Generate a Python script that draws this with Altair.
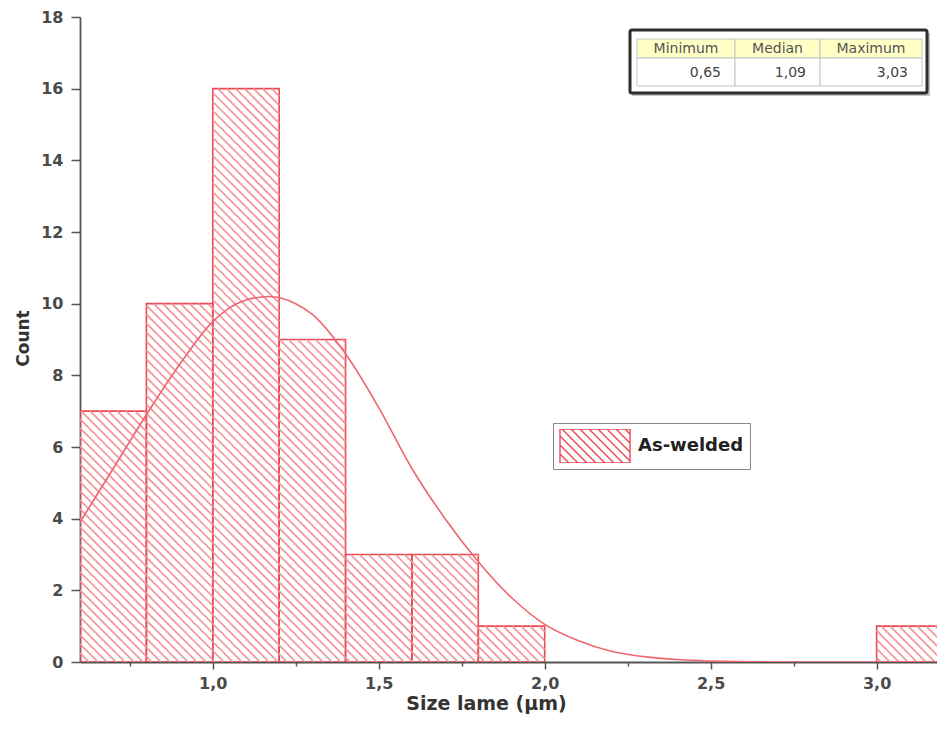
import numpy as np
import pandas as pd
import altair as alt

# ---------------- data ----------------
bin_start = [0.6, 0.8, 1.0, 1.2, 1.4, 1.6, 1.8, 3.0]
bin_end = [0.8, 1.0, 1.2, 1.4, 1.6, 1.8, 2.0, 3.2]
counts = [7, 10, 16, 9, 3, 3, 1, 1]
series = ["As-welded"]

curve_x = [0.60, 0.70, 0.80, 0.90, 1.00, 1.10, 1.17, 1.25, 1.30, 1.40, 1.50, 1.60,
           1.70, 1.80, 1.90, 2.00, 2.10, 2.20, 2.30, 2.40, 2.50, 2.75, 3.00, 3.20]
curve_y = [3.9, 5.4, 6.9, 8.3, 9.5, 10.1, 10.2, 10.0, 9.7, 8.6, 7.1, 5.4,
           4.0, 2.8, 1.8, 1.05, 0.6, 0.3, 0.15, 0.07, 0.03, 0.0, 0.0, 0.0]

x_ticks = [0.75, 1.0, 1.25, 1.5, 1.75, 2.0, 2.25, 2.5, 2.75, 3.0]
y_ticks = list(range(0, 19))

stat_names = ["Minimum", "Median", "Maximum"]
stat_values = ["0,65", "1,09", "3,03"]

x_title = "Size lame (μm)"
y_title = "Count"

# ---------------- layout / style ----------------
W, H = 857, 645
X_DOMAIN = [0.6, 3.182]
Y_DOMAIN = [0, 18]
FONT = "DejaVu Sans"
RED = "#ea4852"
HATCH = "#f4959b"
CURVE = "#ef6670"
AXIS = "#555555"
HATCH_STEP = 9.0  # px between hatch lines (horizontal)

sx = W / (X_DOMAIN[1] - X_DOMAIN[0])
sy = H / (Y_DOMAIN[1] - Y_DOMAIN[0])

bar_df = pd.DataFrame({"start": bin_start, "end": bin_end, "count": counts,
                       "series": series * len(counts)})
curve_df = pd.DataFrame({"x": curve_x, "y": curve_y})

# diagonal hatch segments ("\" direction, 45 degrees on screen) inside every bar
rows = []
for x0, x1, h in zip(bin_start, bin_end, counts):
    px0 = (x0 - X_DOMAIN[0]) * sx
    px1 = (x1 - X_DOMAIN[0]) * sx
    ph = h * sy
    k0 = int(np.floor(px0 / HATCH_STEP))
    k1 = int(np.ceil((px1 + ph) / HATCH_STEP))
    for k in range(k0, k1 + 1):
        c = k * HATCH_STEP
        xs = max(px0, c - ph)
        xe = min(px1, c)
        if xe - xs > 0.6:
            rows.append({"hx": X_DOMAIN[0] + xs / sx, "hy": (c - xs) / sy,
                         "hx2": X_DOMAIN[0] + xe / sx, "hy2": (c - xe) / sy})
hatch_df = pd.DataFrame(rows)


# legend swatch: rectangle with diagonal hatch, as a custom symbol path
def swatch_path(hw=1.0, hh=0.486, step=0.257):
    parts = [f"M{-hw},{-hh}H{hw}V{hh}H{-hw}Z"]
    c = -hw - hh + step
    while c < hw + hh:
        xs = max(-hw, c - hh)
        xe = min(hw, c + hh)
        if xe - xs > 0.02:
            parts.append(f"M{xs:.3f},{xs - c:.3f}L{xe:.3f},{xe - c:.3f}")
        c += step
    return "".join(parts)


x_scale = alt.Scale(domain=X_DOMAIN, nice=False, zero=False)
y_scale = alt.Scale(domain=Y_DOMAIN, nice=False, zero=False)

is_major_x = "abs(datum.value * 2 - round(datum.value * 2)) < 0.001"
is_major_y = "datum.value % 2 === 0"

x_axis = alt.Axis(
    values=x_ticks,
    labelExpr=f"({is_major_x}) ? replace(format(datum.value, '.1f'), '.', ',') : ''",
    tickSize={"condition": {"test": is_major_x, "value": 7}, "value": 4},
    tickColor=AXIS, tickWidth=1.5, domainColor=AXIS, domainWidth=1.8,
    labelFont=FONT, labelFontSize=16, labelFontWeight="bold", labelColor="#4a4a4a",
    labelPadding=6, grid=False, labelFlush=False,
    title=x_title, titleFont=FONT, titleFontSize=19, titleFontWeight="bold",
    titleColor="#333333", titleX=406, titleY=41, titleBaseline="middle", titleAlign="center",
)
y_axis = alt.Axis(
    values=y_ticks,
    labelExpr=f"({is_major_y}) ? datum.label : ''",
    tickSize={"condition": {"test": is_major_y, "value": 9}, "value": 5},
    tickColor=AXIS, tickWidth=1.5, domainColor=AXIS, domainWidth=1.8,
    labelFont=FONT, labelFontSize=16, labelFontWeight="bold", labelColor="#4a4a4a",
    labelPadding=8, grid=False, labelFlush=False,
    title=y_title, titleFont=FONT, titleFontSize=17, titleFontWeight="bold",
    titleColor="#333333", titleX=-57, titleY=321, titleAngle=270,
    titleBaseline="middle", titleAlign="center",
)

bars = alt.Chart(bar_df).mark_rect(fill="transparent", strokeWidth=1.6, clip=True).encode(
    x=alt.X("start:Q", scale=x_scale, axis=x_axis),
    x2="end:Q",
    y=alt.Y("count:Q", scale=y_scale, axis=y_axis),
    y2=alt.datum(0),
    stroke=alt.Stroke(
        "series:N",
        scale=alt.Scale(range=[RED]),
        legend=alt.Legend(
            title=None, orient="none", legendX=473, legendY=406,
            symbolType=swatch_path(), symbolSize=4900, symbolStrokeWidth=1.4,
            symbolFillColor="white", clipHeight=34,
            labelFont=FONT, labelFontSize=18, labelFontWeight="bold",
            labelColor="#222222", labelOffset=7, padding=6,
            strokeColor="#888888", fillColor="white",
        ),
    ),
)

hatch = alt.Chart(hatch_df).mark_rule(color=HATCH, strokeWidth=1.7, clip=True).encode(
    x=alt.X("hx:Q", scale=x_scale, title=x_title),
    y=alt.Y("hy:Q", scale=y_scale, title=y_title),
    x2="hx2:Q",
    y2="hy2:Q",
)

curve = alt.Chart(curve_df).mark_line(color=CURVE, strokeWidth=1.6, interpolate="monotone",
                                      clip=True).encode(
    x=alt.X("x:Q", scale=x_scale, title=x_title),
    y=alt.Y("y:Q", scale=y_scale, title=y_title),
)

# ---------------- statistics table (inset) ----------------
one = pd.DataFrame({"k": [0]})
COLS = [557, 655, 740, 842]
HEAD_Y = (22, 41)
VAL_Y = (41, 69)

table_layers = [
    alt.Chart(one).mark_rect(fill="#9a9a9a", opacity=0.6).encode(
        x=alt.value(552), x2=alt.value(850), y=alt.value(16), y2=alt.value(79)),
    alt.Chart(one).mark_rect(fill="white", stroke="#2e2e2e", strokeWidth=3, cornerRadius=2).encode(
        x=alt.value(550), x2=alt.value(847), y=alt.value(13), y2=alt.value(76)),
]
tab_df = pd.DataFrame({"name": stat_names, "value": stat_values})
for i in range(len(stat_names)):
    cell = tab_df.iloc[[i]]
    table_layers.append(alt.Chart(cell).mark_rect(fill="#ffffc6", stroke="#c4c4c4", strokeWidth=1).encode(
        x=alt.value(COLS[i]), x2=alt.value(COLS[i + 1]), y=alt.value(HEAD_Y[0]), y2=alt.value(HEAD_Y[1])))
    table_layers.append(alt.Chart(cell).mark_rect(fill="white", stroke="#c4c4c4", strokeWidth=1).encode(
        x=alt.value(COLS[i]), x2=alt.value(COLS[i + 1]), y=alt.value(VAL_Y[0]), y2=alt.value(VAL_Y[1])))
    table_layers.append(alt.Chart(cell).mark_text(font=FONT, fontSize=14, color="#555555",
                                                   align="center", baseline="middle").encode(
        text="name:N", x=alt.value((COLS[i] + COLS[i + 1]) / 2), y=alt.value(sum(HEAD_Y) / 2)))
    table_layers.append(alt.Chart(cell).mark_text(font=FONT, fontSize=14, color="#444444",
                                                   align="right", baseline="middle").encode(
        text="value:N", x=alt.value(COLS[i + 1] - 14), y=alt.value(sum(VAL_Y) / 2 + 1)))

chart = alt.layer(bars, hatch, curve, *table_layers).properties(
    width=W, height=H,
    padding={"left": 80, "top": 17, "right": 0, "bottom": 67},
    autosize=alt.AutoSizeParams(type="none"),
    view=alt.ViewBackground(stroke="transparent", strokeWidth=0),
).configure_view(stroke="transparent", strokeWidth=0).configure_axis(
    grid=False
).configure(background="white")

chart.save("out.html", embed_options={"renderer": "svg", "actions": False})
